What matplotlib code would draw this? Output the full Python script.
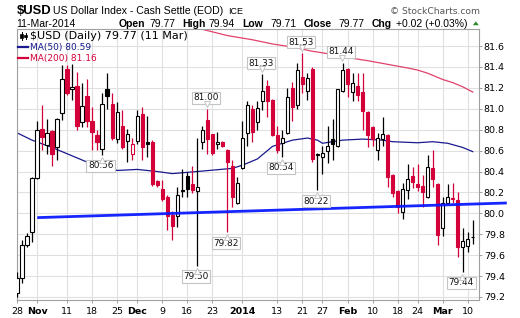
import numpy as np
import matplotlib
matplotlib.use("Agg")
import matplotlib.pyplot as plt
from matplotlib.patches import Rectangle, Polygon
from matplotlib.lines import Line2D
import matplotlib.transforms as mtransforms

# ---------------- data ----------------
opens = [79.24, 79.38, 79.70, 79.82, 80.335, 80.81, 80.65, 80.79, 80.63, 80.96,
         81.38, 81.19, 81.22, 80.87, 81.12, 80.88, 80.75, 80.62, 81.19, 81.045,
         80.71, 80.835, 80.69, 80.565, 80.69, 80.95, 80.68, 80.685, 80.31, 80.23,
         80.16, 79.98, 79.97, 80.225, 80.36, 80.28, 80.21, 80.68, 80.89, 80.755,
         80.66, 80.68, 80.605, 80.45, 80.10, 80.43, 80.765, 81.00, 80.87, 81.07,
         81.22, 81.08, 80.75, 80.67, 80.765, 81.195, 81.04, 81.30, 81.17, 81.38,
         80.57, 80.535, 80.60, 80.71, 80.64, 81.17, 81.38, 81.165, 81.215, 81.165,
         80.97, 80.83, 80.61, 80.71, 80.75, 80.37, 80.21, 80.01, 80.22, 80.36,
         80.28, 80.26, 80.16, 80.43, 80.28, 79.855, 80.10, 80.15, 80.13, 79.675,
         79.69, 79.77]
highs = [79.44, 79.745, 79.81, 80.35, 80.88, 81.04, 80.90, 80.80, 80.91, 81.42,
         81.42, 81.43, 81.35, 81.25, 81.28, 81.02, 80.80, 81.15, 81.34, 81.15,
         81.06, 80.99, 80.81, 80.72, 80.99, 81.02, 80.93, 80.70, 80.32, 80.32,
         80.18, 80.02, 80.255, 80.42, 80.40, 80.45, 80.72, 80.84, 81.00, 80.76,
         80.78, 80.69, 80.62, 80.51, 80.35, 80.88, 81.07, 81.04, 81.07, 81.33,
         81.275, 81.09, 80.84, 80.80, 81.20, 81.26, 81.435, 81.53, 81.34, 81.40,
         80.58, 80.64, 80.84, 80.90, 81.185, 81.44, 81.39, 81.34, 81.345, 81.34,
         80.98, 80.84, 80.765, 80.92, 80.76, 80.38, 80.22, 80.29, 80.47, 80.445,
         80.47, 80.37, 80.56, 80.61, 80.29, 80.16, 80.285, 80.29, 80.20, 79.855,
         79.825, 79.94]
lows = [79.20, 79.33, 79.68, 79.73, 80.33, 80.61, 80.57, 80.45, 80.51, 80.89,
        81.13, 81.08, 80.80, 80.83, 80.83, 80.61, 80.61, 80.56, 81.00, 80.70,
        80.67, 80.62, 80.49, 80.51, 80.66, 80.51, 80.54, 80.26, 80.25, 80.12,
        79.84, 79.745, 79.87, 80.16, 80.16, 80.19, 79.50, 80.62, 80.57, 80.56,
        80.62, 80.63, 79.82, 80.06, 80.09, 80.42, 80.64, 80.685, 80.80, 80.99,
        80.92, 80.74, 80.58, 80.54, 80.76, 80.88, 81.00, 81.15, 81.08, 80.49,
        80.22, 80.38, 80.48, 80.51, 80.63, 81.16, 81.115, 81.07, 81.07, 80.80,
        80.63, 80.64, 80.51, 80.64, 80.255, 80.16, 80.00, 79.95, 80.14, 80.24,
        80.215, 80.06, 80.15, 80.255, 79.70, 79.78, 80.09, 80.10, 79.585, 79.44,
        79.63, 79.71]
closes = [79.38, 79.70, 79.78, 80.335, 80.80, 80.73, 80.765, 80.57, 80.90, 81.28,
          81.15, 81.21, 80.84, 81.03, 80.88, 80.78, 80.685, 81.05, 81.12, 80.72,
          80.965, 80.63, 80.76, 80.66, 80.93, 80.63, 80.665, 80.28, 80.27, 80.14,
          79.97, 79.88, 80.175, 80.215, 80.23, 80.22, 80.25, 80.80, 80.71, 80.575,
          80.68, 80.64, 80.495, 80.16, 80.29, 80.72, 81.04, 80.78, 81.01, 81.17,
          81.07, 80.75, 80.61, 80.72, 81.115, 81.02, 81.37, 81.235, 81.29, 80.52,
          80.555, 80.575, 80.645, 80.66, 81.185, 81.37, 81.24, 81.245, 81.135, 80.98,
          80.75, 80.715, 80.725, 80.755, 80.35, 80.19, 80.065, 80.23, 80.325, 80.30,
          80.25, 80.20, 80.44, 80.325, 79.79, 80.10, 80.16, 80.14, 79.68, 79.735,
          79.75, 79.77]

ma50_idx = [0, 3, 7, 10, 14, 18, 20, 24, 28, 31, 36, 43, 45, 48, 51, 55, 58, 60,
            61, 63, 65, 69, 73, 75, 80, 83, 86, 89, 91]
ma50_val = [80.77, 80.70, 80.63, 80.57, 80.49, 80.44, 80.41, 80.42, 80.40, 80.38,
            80.40, 80.43, 80.46, 80.52, 80.64, 80.70, 80.72, 80.70, 80.67, 80.685,
            80.70, 80.71, 80.70, 80.685, 80.675, 80.685, 80.67, 80.63, 80.59]

ma200_idx = [35, 37, 42, 47, 51, 55, 59, 63, 66, 70, 74, 78, 80, 82, 85, 87, 89, 91]
ma200_val = [81.78, 81.76, 81.70, 81.66, 81.62, 81.59, 81.55, 81.52, 81.49, 81.46,
             81.425, 81.39, 81.37, 81.34, 81.28, 81.25, 81.21, 81.16]

trend_idx = [4.05, 97.8]
trend_val = [79.959, 80.099]

tick_idx = [0, 4, 10, 15, 20, 24, 29, 34, 39, 45, 52, 57, 61, 66, 71, 76, 80, 85, 90]
tick_labels = ['28', 'Nov', '11', '18', '25', 'Dec', '9', '16', '23', '2014',
               '13', '21', '27', 'Feb', '10', '18', '24', 'Mar', '10']
bold_labels = ['Nov', 'Dec', '2014', 'Feb', 'Mar']
y_ticks = [79.2, 79.4, 79.6, 79.8, 80.0, 80.2, 80.4, 80.6, 80.8, 81.0, 81.2, 81.4, 81.6]

label_idx = [17, 38, 36, 42, 49, 53, 57, 60, 65, 89]
label_val = [80.56, 81.00, 79.50, 79.82, 81.33, 80.54, 81.53, 80.22, 81.44, 79.44]
label_side = ['low', 'high', 'low', 'low', 'high', 'low', 'high', 'low', 'high', 'low']

# ---------------- style ----------------
RED = '#d4003a'
BLK = '#000000'
NAVY = '#1a1a8e'
MA200C = '#e2416a'
TREND = '#0a1aff'
GRID = '#e0e0e0'
SPINE = '#a0a0a0'

W, H = 520, 318
fig = plt.figure(figsize=(W / 100, H / 100), dpi=100)
fig.patch.set_facecolor('white')


def fx(px):
    return px / W


def fy(py):
    return 1 - py / H


ax = fig.add_axes([fx(16.5), fy(299.5), fx(479) - fx(16.5), fy(29.3) - fy(299.5)])
ax.set_xlim(-0.1, 92.25)
ax.set_ylim(79.176, 81.76)

# grid
ax.set_yticks(y_ticks)
ax.set_yticklabels([f'{v:.1f}' for v in y_ticks])
ax.set_xticks(tick_idx)
ax.set_xticklabels(tick_labels)
ax.grid(True, color=GRID, lw=0.8, zorder=0)
ax.set_axisbelow(True)
ax.yaxis.tick_right()
ax.tick_params(axis='y', direction='out', length=2.2, width=0.7, color=SPINE,
               labelsize=6.8, pad=1.2)
ax.tick_params(axis='x', direction='out', length=2.2, width=0.7, color=SPINE,
               labelsize=6.8, pad=3.5)
for t in ax.get_xticklabels():
    if t.get_text() in bold_labels:
        t.set_fontweight('bold')
for s in ax.spines.values():
    s.set_color(SPINE)
    s.set_linewidth(0.8)

# moving averages
ax.plot(ma50_idx, ma50_val, color=NAVY, lw=0.9, zorder=2)
ax.plot(ma200_idx, ma200_val, color=MA200C, lw=0.9, zorder=2)

# candles
bw = 0.66
for i in range(len(closes)):
    o, h, l, c = opens[i], highs[i], lows[i], closes[i]
    col = BLK if (i == 0 or c >= closes[i - 1]) else RED
    filled = c < o
    ax.vlines(i, l, h, color=col, lw=0.9, zorder=3)
    bot = min(o, c)
    ht = max(abs(c - o), 0.003)
    ax.add_patch(Rectangle((i - bw / 2, bot), bw, ht,
                           facecolor=col if filled else 'white',
                           edgecolor=col, lw=0.8, zorder=4))

# trend line (extends past the axis like the original)
ax.plot(trend_idx, trend_val, color=TREND, lw=2.0, zorder=5, clip_on=False,
        solid_capstyle='butt', alpha=0.95)

# value labels with pointers
for idx, val, side in zip(label_idx, label_val, label_side):
    sgn = 1 if side == 'high' else -1
    ax.annotate(f'{val:.2f}', xy=(idx, val), xytext=(-1.0, sgn * 7.9),
                textcoords='offset points', ha='center', va='center',
                fontsize=6.4, color='#111111',
                bbox=dict(boxstyle='square,pad=0.18', fc='white', ec='#c4c4c4', lw=0.8),
                zorder=8)
    tr = mtransforms.offset_copy(ax.transData, fig=fig, x=-0.3, y=sgn * 3.6, units='points')
    ax.plot([idx], [val], transform=tr, marker='v' if side == 'high' else '^',
            ms=4.2, mfc='white', mec='#c4c4c4', mew=0.7, zorder=9, clip_on=False)

# ---------------- header ----------------
HF = 'Liberation Sans'
fig.text(fx(16.5), fy(14.5), r'\$USD', fontsize=9.4, fontweight='bold', family=HF, va='baseline')
fig.text(fx(53), fy(14.5), 'US Dollar Index - Cash Settle (EOD)', fontsize=7.6, family=HF, va='baseline')
fig.text(fx(228), fy(14.5), 'ICE', fontsize=6.4, family=HF, va='baseline')
fig.text(fx(479.5), fy(14.5), '\u00a9 StockCharts.com', fontsize=6.6, family='DejaVu Sans',
         color='#555555', ha='right', va='baseline')

last_o, last_h, last_l, last_c = opens[-1], highs[-1], lows[-1], closes[-1]
chg = last_c - closes[-2]
pct = chg / closes[-2] * 100
pieces = [
    (16.7, '11-Mar-2014', 'normal'),
    (119, 'Open', 'bold'), (149, f'{last_o:.2f}', 'normal'),
    (182.7, 'High', 'bold'), (208.3, f'{last_h:.2f}', 'normal'),
    (242.7, 'Low', 'bold'), (270.7, f'{last_l:.2f}', 'normal'),
    (303.3, 'Close', 'bold'), (338.3, f'{last_c:.2f}', 'normal'),
    (371.7, 'Chg', 'bold'), (395.7, f'{chg:+.2f} ({pct:+.2f}%)', 'normal'),
]
for x, s, wgt in pieces:
    fig.text(fx(x), fy(26.6), s, fontsize=7.5, fontweight=wgt, family=HF, va='baseline')
fig.add_artist(Polygon([[fx(472.8), fy(25.2)], [fx(478.8), fy(25.2)], [fx(475.8), fy(21.4)]],
                       closed=True, facecolor='#2a8a2a', edgecolor='none',
                       transform=fig.transFigure))

# ---------------- legend inside plot ----------------
LF = 'DejaVu Sans'
fig.text(fx(29.5), fy(39), f'\\$USD (Daily) {last_c:.2f} (11 Mar)', fontsize=8.0, family=LF, va='baseline')
fig.text(fx(29.5), fy(50), f'MA(50) {ma50_val[-1]:.2f}', fontsize=6.5, family=LF, va='baseline', color=NAVY)
fig.text(fx(29.5), fy(61), f'MA(200) {ma200_val[-1]:.2f}', fontsize=6.5, family=LF, va='baseline', color=RED)
fig.add_artist(Line2D([fx(18.3), fx(28.3)], [fy(46.7), fy(46.7)], color=NAVY, lw=1.6,
                      transform=fig.transFigure))
fig.add_artist(Line2D([fx(18.3), fx(28.3)], [fy(57.5), fy(57.5)], color=RED, lw=1.6,
                      transform=fig.transFigure))
# little candle icon
for cx, top, bot, wt, wb in [(21.5, 33.5, 37.5, 32.0, 39.5), (25.5, 34.5, 37.0, 32.5, 39.0)]:
    fig.add_artist(Line2D([fx(cx), fx(cx)], [fy(wt), fy(wb)], color='black', lw=0.7,
                          transform=fig.transFigure))
    fig.add_artist(Rectangle((fx(cx - 1.3), fy(bot)), fx(2.6), fy(top) - fy(bot),
                             facecolor='black', edgecolor='black', lw=0.5,
                             transform=fig.transFigure))

fig.savefig('out.png', dpi=100, facecolor='white')
